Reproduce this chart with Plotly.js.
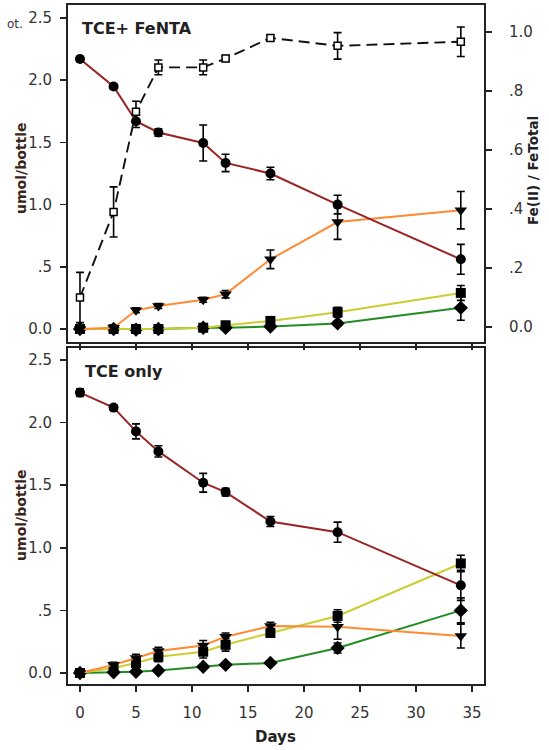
<!DOCTYPE html>
<html>
<head>
<meta charset="utf-8">
<script src="https://cdn.plot.ly/plotly-3.0.1.min.js"></script>
<style>html,body{margin:0;padding:0;background:#fff;}#chart{width:549px;height:750px;}</style>
</head>
<body>
<div id="chart"></div>
<script>
// ---- data ----
var days = [0, 3, 5, 7, 11, 13, 17, 23, 34];

// Top panel: TCE + FeNTA (umol/bottle)
var tceFe      = [2.17, 1.95, 1.67, 1.58, 1.495, 1.335, 1.25, 1.00, 0.56];
var tceFeErr   = [0.02, 0.02, 0.05, 0.03, 0.145, 0.07, 0.05, 0.075, 0.12];
var dceFe      = [0.00, 0.01, 0.15, 0.185, 0.235, 0.28, 0.56, 0.86, 0.955];
var dceFeErr   = [0.01, 0.01, 0.02, 0.02, 0.02, 0.03, 0.075, 0.14, 0.15];
var vcFe       = [0.00, 0.00, 0.00, 0.00, 0.01, 0.03, 0.065, 0.135, 0.29];
var vcFeErr    = [0.01, 0.01, 0.01, 0.01, 0.01, 0.02, 0.02, 0.04, 0.06];
var ethFe      = [0.00, 0.00, -0.005, 0.00, 0.01, 0.01, 0.02, 0.045, 0.17];
var ethFeErr   = [0.01, 0.01, 0.01, 0.01, 0.01, 0.01, 0.01, 0.02, 0.10];
// Fe(II)/FeTotal (right axis)
var feRatio    = [0.10, 0.39, 0.73, 0.88, 0.88, 0.91, 0.98, 0.953, 0.967];
var feRatioErr = [0.085, 0.085, 0.035, 0.025, 0.025, 0.01, 0.01, 0.045, 0.05];

// Bottom panel: TCE only (umol/bottle)
var tceOnly    = [2.24, 2.12, 1.93, 1.77, 1.52, 1.445, 1.21, 1.125, 0.70];
var tceOnlyErr = [0.03, 0.02, 0.06, 0.045, 0.075, 0.03, 0.04, 0.08, 0.12];
var dceOnly    = [0.00, 0.065, 0.12, 0.175, 0.22, 0.29, 0.375, 0.37, 0.295];
var dceOnlyErr = [0.01, 0.02, 0.03, 0.03, 0.04, 0.03, 0.03, 0.10, 0.095];
var vcOnly     = [0.00, 0.04, 0.08, 0.13, 0.17, 0.225, 0.32, 0.455, 0.875];
var vcOnlyErr  = [0.01, 0.03, 0.04, 0.04, 0.05, 0.05, 0.03, 0.05, 0.065];
var ethOnly    = [0.00, 0.005, 0.01, 0.02, 0.05, 0.065, 0.08, 0.20, 0.50];
var ethOnlyErr = [0.01, 0.01, 0.01, 0.01, 0.01, 0.01, 0.01, 0.04, 0.10];

var xTicks = [0, 5, 10, 15, 20, 25, 30, 35];
var yTicks = [0, 0.5, 1.0, 1.5, 2.0, 2.5];
var yTickText = ['0.0', '.5', '1.0', '1.5', '2.0', '2.5'];
var rTicks = [0, 0.2, 0.4, 0.6, 0.8, 1.0];
var rTickText = ['0.0', '.2', '.4', '.6', '.8', '1.0'];

// ---- styles ----
var C_TCE = '#9a2323', C_DCE = '#ff8a33', C_VC = '#cccc33', C_ETH = '#238c23';
function eb(arr) { return {type: 'data', array: arr, visible: true, color: '#000', thickness: 1.6, width: 4}; }
function series(y, err, color, symbol, size, xa, ya) {
  return {x: days, y: y, xaxis: xa, yaxis: ya, type: 'scatter', mode: 'lines+markers',
    line: {color: color, width: 2}, marker: {color: '#000', symbol: symbol, size: size},
    error_y: eb(err), showlegend: false, hoverinfo: 'x+y'};
}

var traces = [
  series(ethOnly, ethOnlyErr, C_ETH, 'diamond', 11, 'x', 'y'),
  series(vcOnly, vcOnlyErr, C_VC, 'square', 10, 'x', 'y'),
  series(dceOnly, dceOnlyErr, C_DCE, 'triangle-down', 11, 'x', 'y'),
  series(tceOnly, tceOnlyErr, C_TCE, 'circle', 10, 'x', 'y'),
  series(ethFe, ethFeErr, C_ETH, 'diamond', 11, 'x2', 'y2'),
  series(vcFe, vcFeErr, C_VC, 'square', 10, 'x2', 'y2'),
  series(dceFe, dceFeErr, C_DCE, 'triangle-down', 11, 'x2', 'y2'),
  series(tceFe, tceFeErr, C_TCE, 'circle', 10, 'x2', 'y2'),
  {x: days, y: feRatio, xaxis: 'x2', yaxis: 'y3', type: 'scatter', mode: 'lines+markers',
   line: {color: '#111', width: 1.9, dash: '11px,6px'},
   marker: {color: '#fff', symbol: 'square', size: 7, line: {color: '#000', width: 1.5}},
   error_y: eb(feRatioErr), showlegend: false}
];

var tickFont = {family: 'DejaVu Sans, sans-serif', size: 15, color: '#333'};
var axLine = {showline: true, linewidth: 2, linecolor: '#222', ticks: 'outside', ticklen: 6,
  tickwidth: 1.5, tickcolor: '#222', showgrid: false, zeroline: false, automargin: false, tickfont: tickFont};
function ax(extra) { return Object.assign({}, axLine, extra); }

var xr = [-1.07, 36.07];
var layout = {
  width: 549, height: 750,
  margin: {l: 68, r: 65, t: 5, b: 66},
  paper_bgcolor: '#fff', plot_bgcolor: '#fff',
  showlegend: false,
  xaxis: ax({domain: [0, 1], anchor: 'y', range: xr, tickmode: 'array', tickvals: xTicks, mirror: true, ticklabelstandoff: 8}),
  xaxis2: ax({domain: [0, 1], anchor: 'y2', range: xr, tickmode: 'array', tickvals: xTicks, mirror: true, showticklabels: false}),
  yaxis: ax({domain: [0, 0.4948], anchor: 'x', range: [-0.088, 2.596], tickmode: 'array', tickvals: yTicks, ticktext: yTickText, mirror: true, ticklabelstandoff: 5}),
  yaxis2: ax({domain: [0.5037, 1], anchor: 'x2', range: [-0.1045, 2.6045], tickmode: 'array', tickvals: yTicks, ticktext: yTickText, mirror: true, ticklabelstandoff: 5}),
  yaxis3: ax({overlaying: 'y2', anchor: 'x2', side: 'right', range: [-0.0508, 1.0915], tickmode: 'array', tickvals: rTicks, ticktext: rTickText, ticklabelstandoff: 14}),
  annotations: [
    {text: 'TCE+ FeNTA', xref: 'paper', yref: 'paper', x: 0.029, y: 0.966, xanchor: 'left', yanchor: 'middle', showarrow: false,
     font: {family: 'DejaVu Sans, sans-serif', size: 16, color: '#222', weight: 'bold'}},
    {text: 'TCE only', xref: 'paper', yref: 'paper', x: 0.036, y: 0.4595, xanchor: 'left', yanchor: 'middle', showarrow: false,
     font: {family: 'DejaVu Sans, sans-serif', size: 16, color: '#222', weight: 'bold'}},
    {text: 'umol/bottle', xref: 'paper', yref: 'paper', x: -0.113, y: 0.760, xanchor: 'center', yanchor: 'middle', textangle: -90, showarrow: false,
     font: {family: 'DejaVu Sans, sans-serif', size: 14, color: '#3a2418', weight: 'bold'}},
    {text: 'umol/bottle', xref: 'paper', yref: 'paper', x: -0.113, y: 0.249, xanchor: 'center', yanchor: 'middle', textangle: -90, showarrow: false,
     font: {family: 'DejaVu Sans, sans-serif', size: 14, color: '#3a2418', weight: 'bold'}},
    {text: 'Fe(II) / FeTotal', xref: 'paper', yref: 'paper', x: 1.118, y: 0.7555, xanchor: 'center', yanchor: 'middle', textangle: -90, showarrow: false,
     font: {family: 'DejaVu Sans, sans-serif', size: 13.5, color: '#222', weight: 'bold'}},
    {text: 'Days', xref: 'paper', yref: 'paper', x: 0.4976, y: -0.078, xanchor: 'center', yanchor: 'middle', showarrow: false,
     font: {family: 'DejaVu Sans, sans-serif', size: 15, color: '#222', weight: 'bold'}},
    {text: 'ot.', xref: 'paper', yref: 'paper', x: -0.152, y: 0.972, xanchor: 'left', yanchor: 'middle', showarrow: false,
     font: {family: 'DejaVu Sans, sans-serif', size: 12, color: '#334'}}
  ]
};

Plotly.newPlot('chart', traces, layout, {staticPlot: true, displayModeBar: false});
</script>
</body>
</html>
